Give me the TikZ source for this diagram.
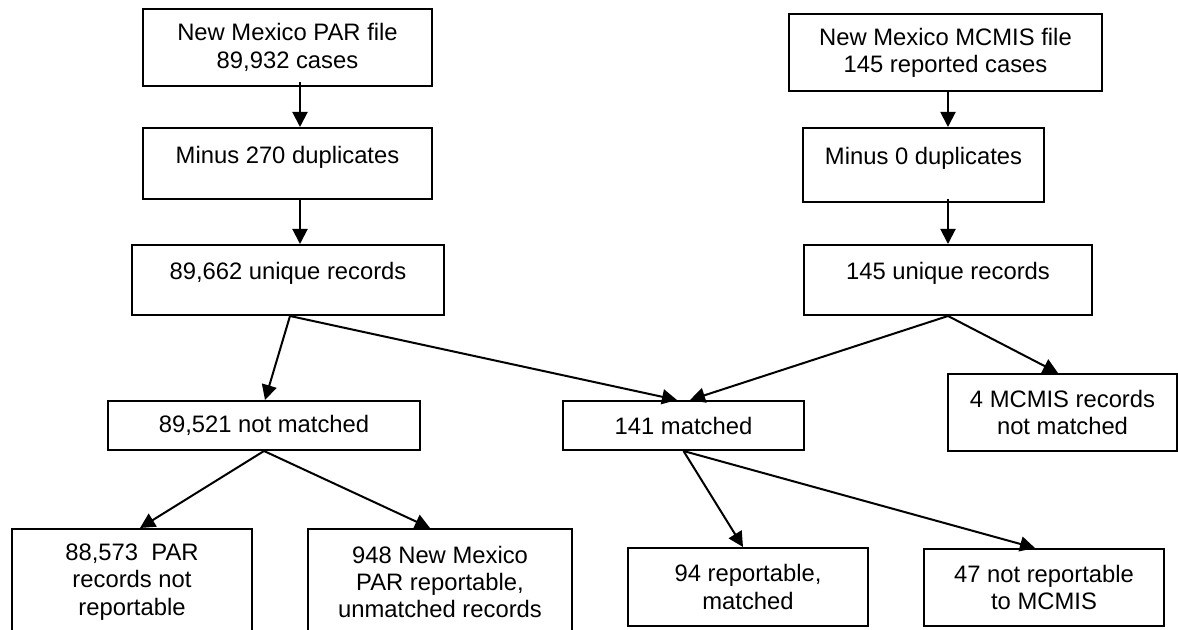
\documentclass[tikz,border=0pt]{standalone}
\usepackage{fontspec}
\setmainfont{Liberation Sans}
\usetikzlibrary{arrows.meta}

\tikzset{
  box/.style={draw, line width=1pt, rectangle, align=center, inner sep=2pt,
    font=\fontsize{11.9pt}{13.6pt}\selectfont},
  topbox/.style={box, text height=9pt, text depth=9pt},
  arr/.style={line width=1pt, -{Triangle[length=7.5pt,width=7.5pt]}}
}

\begin{document}
\begin{tikzpicture}[x=0.5pt,y=-0.5pt]

\useasboundingbox (0,0) rectangle (1178,630);
\clip (0,0) rectangle (1178,630);

% PAR side
\node[box, minimum width=144.5pt, minimum height=38.5pt] (parfile) at (287.5,47.5) {New Mexico PAR file\\89,932 cases};
\node[topbox, minimum width=144.5pt, minimum height=35.5pt] (pardup) at (287.5,163.5) {Minus 270 duplicates};
\node[topbox, minimum width=156pt, minimum height=35pt] (paruniq) at (288,280) {89,662 unique records};

% MCMIS side
\node[box, minimum width=156.5pt, minimum height=38.5pt] (mcfile) at (945.5,52.5) {New Mexico MCMIS file\\145 reported cases};
\node[topbox, minimum width=120.5pt, minimum height=37pt] (mcdup) at (923.5,165) {Minus 0 duplicates};
\node[topbox, minimum width=144pt, minimum height=35pt] (mcuniq) at (948,280) {145 unique records};

% Match results
\node[box, minimum width=156pt, minimum height=24.5pt] (notmatched) at (264,425.5) {89,521 not matched};
\node[box, minimum width=120.5pt, minimum height=24.5pt] (matched) at (683.5,425.5) {141 matched};
\node[box, minimum width=114.5pt, minimum height=38.5pt] (mcnot) at (1062.5,412.5) {4 MCMIS records\\not matched};

% Bottom row
\node[box, minimum width=120pt, minimum height=53pt] (parnotrep) at (132,582) {88,573\ \ PAR\\records not\\reportable};
\node[box, minimum width=132pt, minimum height=53pt] (parrep) at (440,582) {948 New Mexico\\PAR reportable,\\unmatched records};
\node[box, minimum width=120pt, minimum height=39pt] (repmatched) at (748,587) {94 reportable,\\matched};
\node[box, minimum width=120pt, minimum height=38.5pt] (notrep) at (1044,587.5) {47 not reportable\\to MCMIS};

% Arrows
\draw[arr] ([xshift=6.25pt,yshift=2.5pt]parfile.south) -- ([xshift=6.25pt]pardup.north);
\draw[arr] ([xshift=6.25pt]pardup.south) -- ([xshift=6pt]paruniq.north);
\draw[arr] ([xshift=1.25pt]mcfile.south) -- ([xshift=12.25pt]mcdup.north);
\draw[arr] ([xshift=12.25pt,yshift=2pt]mcdup.south) -- (mcuniq.north);

\draw[arr] ([xshift=1pt]paruniq.south) -- ([xshift=0.5pt]notmatched.north);
\draw[arr] ([xshift=1pt]paruniq.south) -- ([xshift=-3.25pt]matched.north);
\draw[arr] (mcuniq.south) -- ([xshift=3.25pt]matched.north);
\draw[arr] (mcuniq.south) -- ([xshift=-2.25pt]mcnot.north);

\draw[arr] (notmatched.south) -- ([xshift=4pt]parnotrep.north);
\draw[arr] (notmatched.south) -- ([xshift=-5pt]parrep.north);
\draw[arr] (matched.south) -- ([xshift=-2.5pt]repmatched.north);
\draw[arr] (matched.south) -- ([xshift=-4.5pt]notrep.north);

\end{tikzpicture}
\end{document}
